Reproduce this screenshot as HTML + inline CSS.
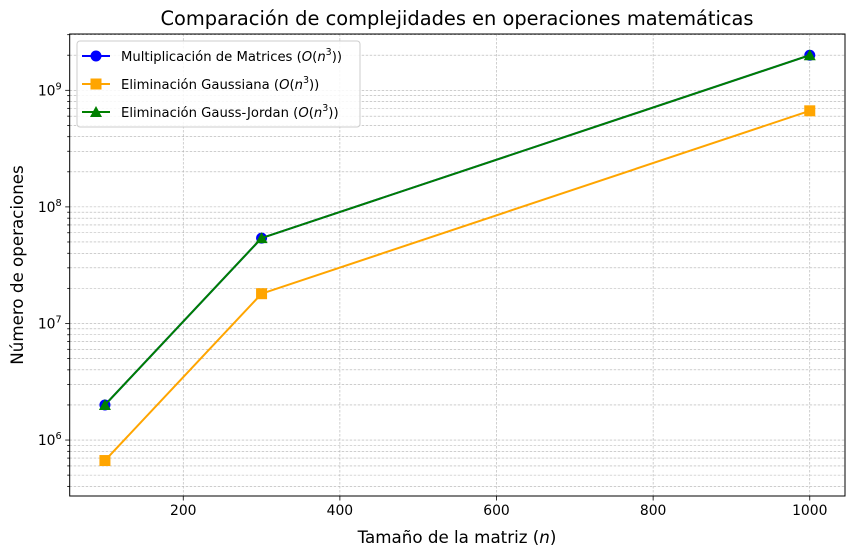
<!DOCTYPE html>
<html><head><meta charset="utf-8"><style>
body{margin:0;background:#fff;}
svg{font-family:"DejaVu Sans","Liberation Sans",sans-serif;}
</style></head><body>
<svg id="chart" width="854" height="555" xmlns="http://www.w3.org/2000/svg">
<rect width="854" height="555" fill="#fff"/>
<g id="grid"></g><g id="series"></g><g id="axes"></g>
</svg>
<script>
const categories=[100,300,1000];
const multValues=[2e6,5.4e7,2e9];
const gaussValues=[6.67e5,1.8e7,6.67e8];
const gjValues=[2e6,5.4e7,2e9];
const xTicks=[200,400,600,800,1000];
const yTickExps=[6,7,8,9];
const L=69.7,R=845,T=34,B=496;
const xMin=55,xMax=1045,yLogMin=5.52,yLogMax=9.483;
function X(v){return L+(v-xMin)/(xMax-xMin)*(R-L);}
function Y(v){return B-(Math.log10(v)-yLogMin)/(yLogMax-yLogMin)*(B-T);}
const NS="http://www.w3.org/2000/svg";
function mk(t,a,p){const e=document.createElementNS(NS,t);for(const k in a)e.setAttribute(k,a[k]);p.appendChild(e);return e;}
const grid=document.getElementById('grid'),ser=document.getElementById('series'),ax=document.getElementById('axes');
for(const t of xTicks){const l=mk('line',{x1:X(t),x2:X(t),y1:T,y2:B,stroke:'#b0b0b0','stroke-width':0.6,'stroke-dasharray':'2.5,1.5'},grid);
}
for(let e=5;e<=9;e++){for(let m=1;m<10;m++){const v=m*Math.pow(10,e);const y=Y(v);if(y<T||y>B)continue;
const l=mk('line',{x1:L,x2:R,y1:y,y2:y,stroke:'#b0b0b0','stroke-width':0.6,'stroke-dasharray':'2.5,1.5'},grid);

const tk=mk('line',{x1:L,x2:L-(m==1?4.5:2.5),y1:y,y2:y,stroke:'#000','stroke-width':0.8},ax);
}}
function series(vals,color,marker,name){
const g=mk('g',{},ser);
mk('polyline',{points:categories.map((c,i)=>X(c)+','+Y(vals[i])).join(' '),fill:'none',stroke:color,'stroke-width':2},g);
categories.forEach((c,i)=>{const x=X(c),y=Y(vals[i]);let m;
if(marker=='o')m=mk('circle',{cx:x,cy:y,r:5.5,fill:color},g);
else if(marker=='s')m=mk('rect',{x:x-5.5,y:y-5.5,width:11,height:11,fill:color},g);
else m=mk('polygon',{points:`${x},${y-6} ${x-6},${y+5} ${x+6},${y+5}`,fill:color},g);
});}
series(multValues,'#0000ff','o','series-multiplicacion');
series(gaussValues,'#ffa500','s','series-gaussiana');
series(gjValues,'#008000','^','series-gauss-jordan');
const fr=mk('rect',{x:L,y:T,width:R-L,height:B-T,fill:'none',stroke:'#000','stroke-width':1},ax);

for(const t of xTicks){const x=X(t);mk('line',{x1:x,x2:x,y1:B,y2:B+4.5,stroke:'#000','stroke-width':0.8},ax);
const tx=mk('text',{x:x,y:B+19,'font-size':13.9,'text-anchor':'middle'},ax);tx.textContent=t;
}
for(const e of yTickExps){const y=Y(Math.pow(10,e));
const tx=mk('text',{x:L-8,y:y+5,'font-size':13.9,'text-anchor':'end'},ax);
tx.innerHTML='10<tspan dy="-6" font-size="9.7">'+e+'</tspan>';
}
</script>
<svg style="position:absolute;left:0;top:0" width="854" height="555" xmlns="http://www.w3.org/2000/svg" font-family="DejaVu Sans, Liberation Sans, sans-serif">
<text x="457" y="25" font-size="19.4" text-anchor="middle">Comparación de complejidades en operaciones matemáticas</text>
<text x="457" y="543" font-size="16.7" text-anchor="middle">Tamaño de la matriz (<tspan font-style="italic">n</tspan>)</text>
<text transform="translate(23,265) rotate(-90)" font-size="16.7" text-anchor="middle">Número de operaciones</text>
<g>
<rect x="77" y="41" width="283" height="86" rx="3" fill="#fff" fill-opacity="0.85" stroke="#ccc"/>
<g><line x1="82" x2="110" y1="56" y2="56" stroke="#0000ff" stroke-width="2"/><circle cx="96" cy="56" r="5.5" fill="#0000ff"/>
<text x="121" y="61" font-size="13.2">Multiplicación de Matrices (<tspan font-style="italic">O</tspan>(<tspan font-style="italic">n</tspan><tspan dy="-6" font-size="9.5">3</tspan><tspan dy="6">))</tspan></text></g>
<g><line x1="82" x2="110" y1="84" y2="84" stroke="#ffa500" stroke-width="2"/><rect x="90.5" y="78.5" width="11" height="11" fill="#ffa500"/>
<text x="121" y="89" font-size="13.2">Eliminación Gaussiana (<tspan font-style="italic">O</tspan>(<tspan font-style="italic">n</tspan><tspan dy="-6" font-size="9.5">3</tspan><tspan dy="6">))</tspan></text></g>
<g><line x1="82" x2="110" y1="112" y2="112" stroke="#008000" stroke-width="2"/><polygon points="96,106 90,117 102,117" fill="#008000"/>
<text x="121" y="117" font-size="13.2">Eliminación Gauss-Jordan (<tspan font-style="italic">O</tspan>(<tspan font-style="italic">n</tspan><tspan dy="-6" font-size="9.5">3</tspan><tspan dy="6">))</tspan></text></g>
</g>
</svg>
</body></html>
